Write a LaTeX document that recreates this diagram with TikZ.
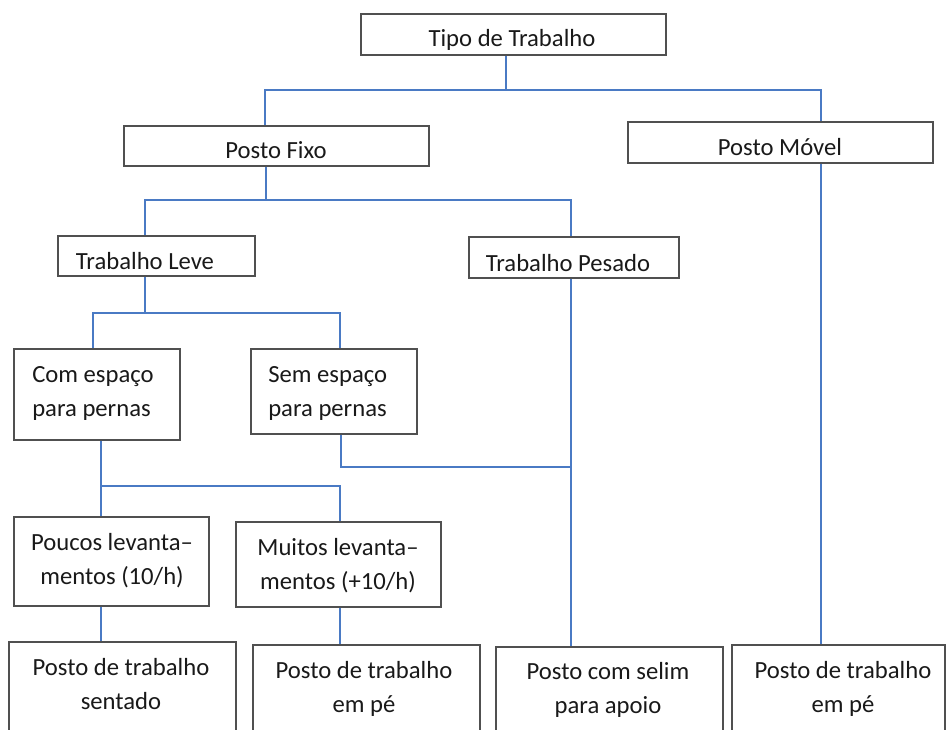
\documentclass[tikz,border=0pt]{standalone}
\usepackage{fontspec}
\setmainfont{Carlito}
\usetikzlibrary{fit}
\definecolor{connc}{HTML}{4A7AC4}
\definecolor{edgec}{HTML}{505050}
\begin{document}
\begin{tikzpicture}[x=0.75pt,y=-0.75pt,
  box/.style={draw=edgec, line width=0.8pt, inner sep=0pt},
  lbl/.style={font=\fontsize{18.5}{26}\selectfont, inner sep=0pt, anchor=base, align=center, text=black!90},
  lbll/.style={lbl, anchor=base west, align=left},
  conn/.style={draw=connc, line width=0.9pt}]
\useasboundingbox (0,0) rectangle (947,730);
\clip (0,0) rectangle (947,730);
% boxes
\node[box, fit={(361,14) (666,55)}] (tipo) {};
\node[box, fit={(124,126) (429,166)}] (fixo) {};
\node[box, fit={(628,122) (933,163)}] (movel) {};
\node[box, fit={(58,236) (255,276)}] (leve) {};
\node[box, fit={(469,237) (679,278)}] (pesado) {};
\node[box, fit={(14,349) (180,440)}] (com) {};
\node[box, fit={(251,349) (417,434)}] (sem) {};
\node[box, fit={(14,517) (209,606)}] (poucos) {};
\node[box, fit={(236,522) (441,607)}] (muitos) {};
\node[box, fit={(9,642) (236,750)}] (sentado) {};
\node[box, fit={(253,645) (480,750)}] (empe1) {};
\node[box, fit={(496,647) (723,750)}] (selim) {};
\node[box, fit={(732,645) (945,750)}] (empe2) {};
% texts (base anchor = baseline of the last line)
\node[lbl] (tipoT) at (512,47) {Tipo de Trabalho};
\node[lbl] (fixoT) at (276,159) {Posto Fixo};
\node[lbl] (movelT) at (780,156) {Posto Móvel};
\node[lbl] (leveT) at (145,270) {Trabalho Leve};
\node[lbl] (pesadoT) at (568,272) {Trabalho Pesado};
\node[lbll] (comT) at (32,417) {Com espaço\\para pernas};
\node[lbll] (semT) at (268,417) {Sem espaço\\para pernas};
\node[lbl] (poucosT) at (112,585) {Poucos levanta–\\mentos (10/h)};
\node[lbl] (muitosT) at (338,590) {Muitos levanta–\\mentos (+10/h)};
\node[lbl] (sentadoT) at (121,710) {Posto de trabalho\\sentado};
\node[lbl] (empe1T) at (364,713) {Posto de trabalho\\em pé};
\node[lbl] (selimT) at (608,714) {Posto com selim\\para apoio};
\node[lbl] (empe2T) at (843,713) {Posto de trabalho\\em pé};
% junction coordinates
\coordinate (b1m) at (506,90);
\coordinate (b1l) at (265,90);
\coordinate (b1r) at (821,90);
\coordinate (b2m) at (266,200);
\coordinate (b2l) at (145,200);
\coordinate (b2r) at (571,200);
\coordinate (b3m) at (145,313);
\coordinate (b3l) at (93,313);
\coordinate (b3r) at (340,313);
\coordinate (b4l) at (341,467);
\coordinate (b4r) at (571,467);
\coordinate (b5l) at (101,486);
\coordinate (b5r) at (340,486);
% connectors
\draw[conn] (tipo.south -| b1m) -- (b1m);
\draw[conn] (fixo.north -| b1l) -- (b1l) -- (b1r) -- (movel.north -| b1r);
\draw[conn] (fixo.south -| b2m) -- (b2m);
\draw[conn] (leve.north -| b2l) -- (b2l) -- (b2r) -- (pesado.north -| b2r);
\draw[conn] (leve.south -| b3m) -- (b3m);
\draw[conn] (com.north -| b3l) -- (b3l) -- (b3r) -- (sem.north -| b3r);
\draw[conn] (sem.south -| b4l) -- (b4l) -- (b4r);
\draw[conn] (pesado.south -| b4r) -- (selim.north -| b4r);
\draw[conn] (com.south -| b5l) -- (b5l) -- (b5r) -- (muitos.north -| b5r);
\draw[conn] (b5l) -- (poucos.north -| b5l);
\draw[conn] (poucos.south -| b5l) -- (sentado.north -| b5l);
\draw[conn] (muitos.south -| b5r) -- (empe1.north -| b5r);
\draw[conn] (movel.south -| b1r) -- (empe2.north -| b1r);
\end{tikzpicture}
\end{document}
